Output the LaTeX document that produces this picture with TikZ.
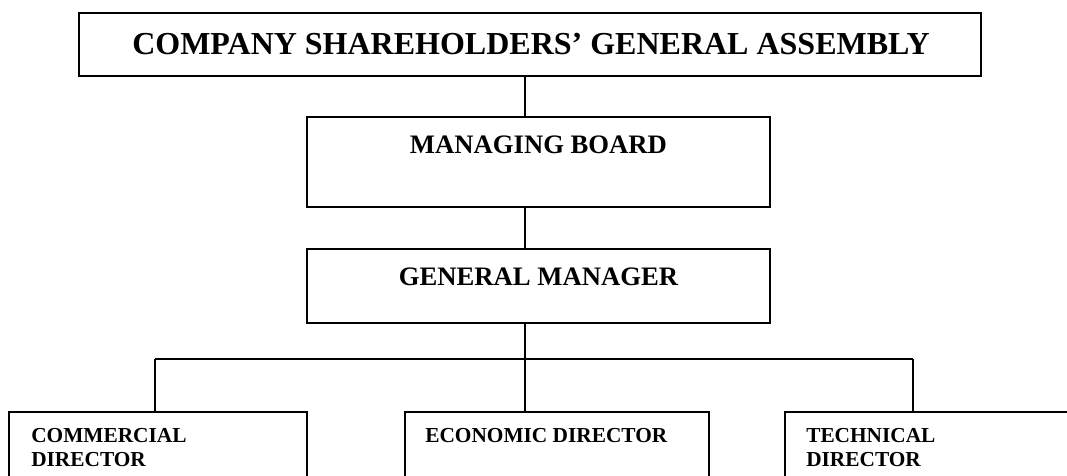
\documentclass[tikz,border=0pt]{standalone}
\usepackage{fontspec}
\setmainfont{Liberation Serif}
\usetikzlibrary{positioning, calc}

\tikzset{
    hop/.style={draw, line width=1.1pt, inner sep=0pt, outer sep=0pt},
    noi/.style={line width=0.8pt},
    chulon/.style={inner sep=0pt, anchor=base, font=\fontsize{20}{24}\selectfont\bfseries},
    chunho/.style={inner sep=0pt, anchor=north west, align=left, font=\fontsize{16}{18}\selectfont\bfseries},
}

\begin{document}
\begin{tikzpicture}[x=0.75pt, y=-0.75pt] % 1 đơn vị = 1 điểm ảnh
        \useasboundingbox (0,0) rectangle (1067,475);
        \clip (0,0) rectangle (1067,475);

        % Các khung chính
        \node[hop, minimum width=676.5pt, minimum height=47.25pt] (dhcd) at (530,44.5) {};
        \node[hop, minimum width=347.25pt, minimum height=67.5pt] (hdqt) at (538.5,162) {};
        \node[hop, minimum width=347.25pt, minimum height=55.5pt] (gd) at (538.5,286) {};

        % Ba khung giám đốc ở dưới (bị cắt ở mép dưới)
        \node[hop, minimum width=223.5pt, minimum height=58.5pt] (tm) at (158,451) {};
        \node[hop, minimum width=228pt, minimum height=58.5pt] (kt) at (557,451) {};
        \node[hop, minimum width=217.5pt, minimum height=58.5pt] (kth) at (930,451) {};

        % Chữ trong các khung
        \node[inner sep=0pt, anchor=base, font=\fontsize{24}{28}\selectfont\bfseries] (dhcdchu) at (531,54) {COMPANY SHAREHOLDERS’ GENERAL ASSEMBLY};
        \node[chulon] (hdqtchu) at (538.5,153) {MANAGING BOARD};
        \node[chulon] (gdchu) at (538.5,285) {GENERAL MANAGER};
        \node[chunho] (tmchu) at (31,428) {COMMERCIAL\\DIRECTOR};
        \node[chunho] (ktchu) at (425,428) {ECONOMIC DIRECTOR};
        \node[chunho] (kthchu) at (806,428) {TECHNICAL\\DIRECTOR};

        % Đường nối dọc ở giữa và thanh ngang
        \coordinate (truc) at (525,0);
        \coordinate (n1) at (155,359);
        \coordinate (n2) at (525,359);
        \coordinate (n3) at (913,359);
        \draw[noi] (dhcd.south -| truc) -- (hdqt.north -| truc);
        \draw[noi] (hdqt.south -| truc) -- (gd.north -| truc);
        \draw[noi] (gd.south -| truc) -- (n2);
        \draw[noi] (n1) -- (n3);
        \draw[noi] (n1) -- (n1 |- tm.north);
        \draw[noi] (n2) -- (n2 |- kt.north);
        \draw[noi] (n3) -- (n3 |- kth.north);
    \end{tikzpicture}
\end{document}
